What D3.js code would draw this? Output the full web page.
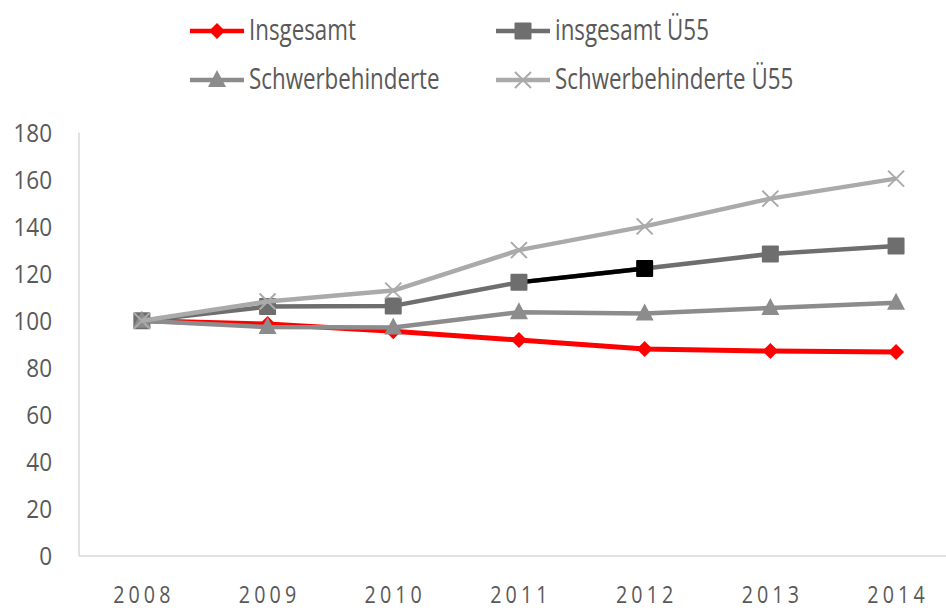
<!DOCTYPE html>
<html>
<head>
<meta charset="utf-8">
<script src="https://cdn.jsdelivr.net/npm/d3@7"></script>
<style>
body { margin: 0; background: #fff; }
svg text { font-family: "Open Sans", sans-serif; fill: #595959; }
</style>
</head>
<body>
<div id="chart"></div>
<script>
var years = ["2008", "2009", "2010", "2011", "2012", "2013", "2014"];
var insgesamt = [100, 98.6, 95.5, 91.8, 88, 87.1, 86.7];
var insgesamtU55 = [100, 106, 106.3, 116.3, 122.2, 128.4, 131.8];
var schwerbehinderte = [100, 97.3, 97.1, 103.6, 103.1, 105.4, 107.6];
var schwerbehinderteU55 = [100, 108.2, 112.8, 130, 140.1, 151.9, 160.4];
var yTicks = [0, 20, 40, 60, 80, 100, 120, 140, 160, 180];
var seriesNames = ["Insgesamt", "insgesamt Ü55", "Schwerbehinderte", "Schwerbehinderte Ü55"];

var width = 946;
var height = 610;

var series = [
	{ name: seriesNames[0], values: insgesamt, color: "#ff0000", symbol: "diamond" },
	{ name: seriesNames[1], values: insgesamtU55, color: "#6e6e6e", symbol: "square" },
	{ name: seriesNames[2], values: schwerbehinderte, color: "#8c8c8c", symbol: "triangle" },
	{ name: seriesNames[3], values: schwerbehinderteU55, color: "#aaaaaa", symbol: "cross" }
];

var svg = d3.select("#chart").append("svg")
	.attr("width", width)
	.attr("height", height);

// plot area: left edge 79, one category is about 125.7 px wide
var x = d3.scaleBand()
	.domain(years)
	.range([79, 79 + 7 * 125.7]);
var y = d3.scaleLinear()
	.domain([0, 180])
	.range([556, 132.5]);

function cx(i) { return x(years[i]) + x.bandwidth() / 2; }

// axes lines
svg.append("line")
	.attr("x1", 79).attr("x2", 79)
	.attr("y1", y(180)).attr("y2", y(0))
	.attr("stroke", "#d9d9d9").attr("stroke-width", 1.5);
svg.append("line")
	.attr("x1", 79).attr("x2", width)
	.attr("y1", y(0)).attr("y2", y(0))
	.attr("stroke", "#d9d9d9").attr("stroke-width", 1.5);

// y tick labels
var yAxis = svg.append("g")
	.attr("transform", "translate(52,0)")
	.call(d3.axisLeft(y).tickValues(yTicks).tickSize(0).tickPadding(0));
yAxis.select(".domain").remove();
yAxis.selectAll("text")
	.attr("font-size", 25)
	.attr("font-family", "Open Sans")
	.attr("fill", "#595959")
	.attr("dy", "0.35em")
	.attr("transform", "scale(0.9,1)");

// x tick labels
svg.append("g").selectAll("text")
	.data(years)
	.enter()
	.append("text")
	.attr("transform", function(d) { return "translate(" + (x(d) + x.bandwidth() / 2 + 2) + ",603) scale(0.82,1)"; })
	.attr("text-anchor", "middle")
	.attr("font-size", 24)
	.attr("letter-spacing", 5)
	.text(function(d) { return d; });

function drawMarker(g, symbol, px, py, color) {
	if (symbol === "diamond") {
		g.append("path")
			.attr("d", "M" + px + "," + (py - 8) + "L" + (px + 8) + "," + py + "L" + px + "," + (py + 8) + "L" + (px - 8) + "," + py + "Z")
			.attr("fill", color);
	} else if (symbol === "square") {
		g.append("rect")
			.attr("x", px - 8.5).attr("y", py - 8.5)
			.attr("width", 17).attr("height", 17)
			.attr("rx", 1)
			.attr("fill", color);
	} else if (symbol === "triangle") {
		g.append("path")
			.attr("d", "M" + px + "," + (py - 10) + "L" + (px + 9) + "," + (py + 7) + "L" + (px - 9) + "," + (py + 7) + "Z")
			.attr("fill", color);
	} else {
		g.append("path")
			.attr("d", "M" + (px - 8) + "," + (py - 8) + "L" + (px + 8) + "," + (py + 8) + "M" + (px + 8) + "," + (py - 8) + "L" + (px - 8) + "," + (py + 8))
			.attr("stroke", color)
			.attr("stroke-width", 2)
			.attr("fill", "none");
	}
}

var line = d3.line()
	.x(function(d, i) { return cx(i); })
	.y(function(d) { return y(d); });

series.forEach(function(s, si) {
	var g = svg.append("g");
	g.append("path")
		.datum(s.values)
		.attr("d", line)
		.attr("fill", "none")
		.attr("stroke", s.color)
		.attr("stroke-width", si === 0 ? 5 : 4.5)
		.attr("stroke-linejoin", "round");
	// highlighted 2011-2012 segment of insgesamt Ü55
	if (si === 1) {
		g.append("line")
			.attr("x1", cx(3)).attr("y1", y(s.values[3]))
			.attr("x2", cx(4)).attr("y2", y(s.values[4]))
			.attr("stroke", "#000").attr("stroke-width", 4.5);
	}
	s.values.forEach(function(v, i) {
		var c = (si === 1 && i === 4) ? "#000" : s.color;
		drawMarker(g, s.symbol, cx(i), y(v), c);
	});
});

// legend
var legendPos = [[190, 31], [496, 31], [190, 80], [496, 80]];
series.forEach(function(s, si) {
	var lx = legendPos[si][0], ly = legendPos[si][1];
	var g = svg.append("g");
	g.append("line")
		.attr("x1", lx).attr("x2", lx + 54)
		.attr("y1", ly).attr("y2", ly)
		.attr("stroke", s.color).attr("stroke-width", 4.5);
	drawMarker(g, s.symbol, lx + 27, ly, s.color);
	g.append("text")
		.attr("transform", "translate(" + (lx + 59) + "," + (ly + 9) + ") scale(0.77,1)")
		.attr("font-size", 29)
		.text(s.name);
});
</script>
</body>
</html>
